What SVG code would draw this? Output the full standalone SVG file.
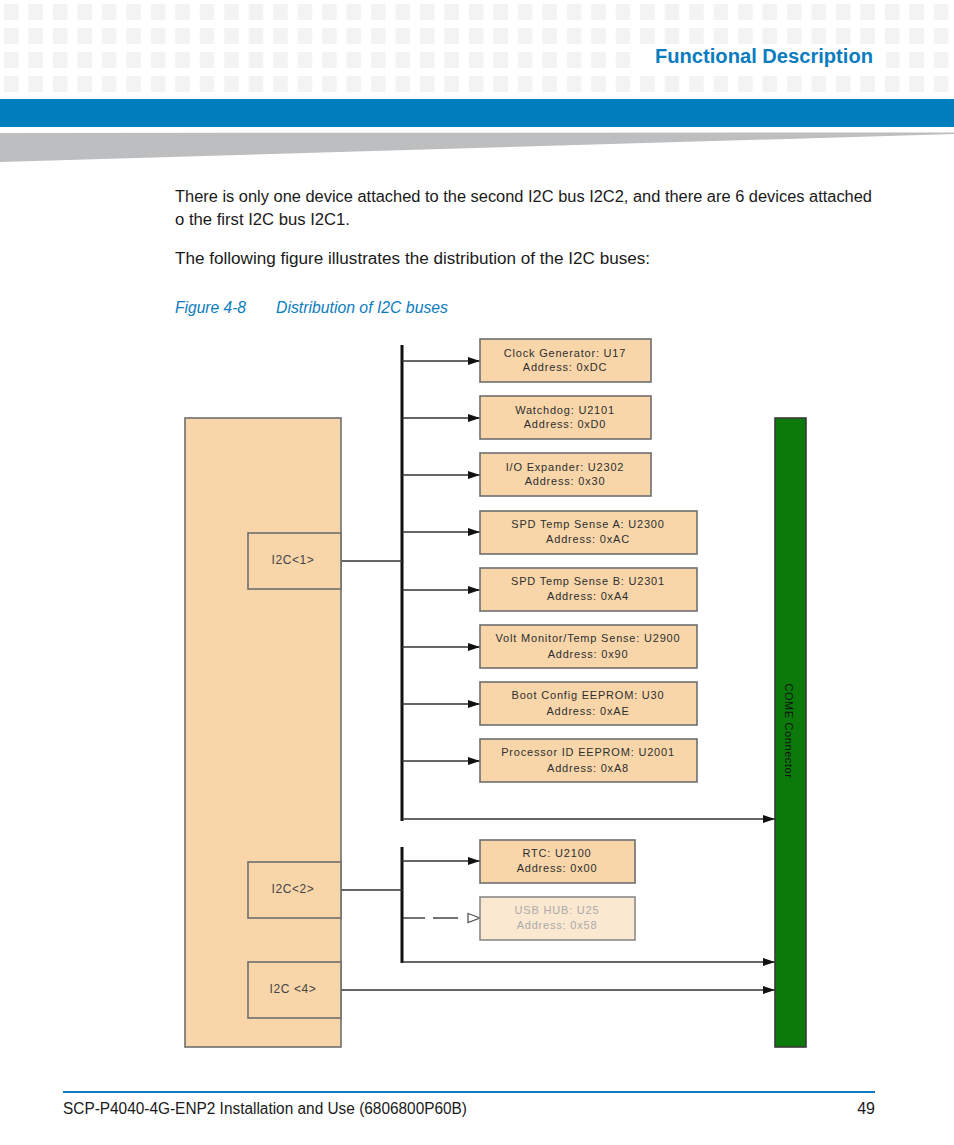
<svg xmlns="http://www.w3.org/2000/svg" width="954" height="1145" viewBox="0 0 954 1145">
<defs>
<pattern id="sq" x="0" y="0" width="24.47" height="24" patternUnits="userSpaceOnUse">
<rect x="4" y="4" width="14.5" height="16" fill="#f3f3f3"/>
</pattern>
<marker id="arr" markerWidth="12" markerHeight="10" refX="12" refY="5" orient="auto" markerUnits="userSpaceOnUse">
<path d="M0,1 L12,5 L0,9 Z" fill="#111"/>
</marker>
<marker id="arrOpen" markerWidth="14" markerHeight="12" refX="13" refY="6" orient="auto" markerUnits="userSpaceOnUse">
<path d="M1,1.5 L13,6 L1,10.5 Z" fill="#fff" stroke="#555" stroke-width="1.3"/>
</marker>
</defs>
<style>
.body{font-family:"Liberation Sans",Arial,sans-serif;font-size:16px;fill:#1a1a1a}
.cap{font-family:"Liberation Sans",Arial,sans-serif;font-size:16px;font-style:italic;fill:#0a7cc0}
.box{fill:#f8d6aa;stroke:#6e6e6e;stroke-width:1.6}
.boxl{fill:#fbe8d0;stroke:#8a8a8a;stroke-width:1.6}
.bt{font-family:"Liberation Sans",Arial,sans-serif;font-size:11px;fill:#2e2e2e;text-anchor:middle;letter-spacing:0.8px}
.btl{font-family:"Liberation Sans",Arial,sans-serif;font-size:11px;fill:#aaa;text-anchor:middle;letter-spacing:0.8px}
.lt{font-family:"Liberation Sans",Arial,sans-serif;font-size:12px;fill:#444;text-anchor:middle;letter-spacing:0.6px}
.ln{stroke:#333;stroke-width:1.5;fill:none}
.bus{stroke:#111;stroke-width:3;fill:none}
</style>
<rect width="954" height="1145" fill="#fff"/>
<g id="header">
<rect x="0" y="0" width="954" height="96" fill="url(#sq)"/>
<rect x="638" y="44" width="248" height="26" fill="#fff"/>
<text x="873" y="63" text-anchor="end" font-family="'Liberation Sans',Arial,sans-serif" font-size="20" font-weight="bold" fill="#0a7cc0" textLength="218" lengthAdjust="spacingAndGlyphs">Functional Description</text>
<rect x="0" y="99" width="954" height="28" fill="#007dbd"/>
<polygon points="0,133 954,132.5 954,134 0,162" fill="#bdbebf"/>
</g>
<g id="text">
<text class="body" x="175" y="202" textLength="697" lengthAdjust="spacingAndGlyphs">There is only one device attached to the second I2C bus I2C2, and there are 6 devices attached</text>
<text class="body" x="175" y="225" textLength="175" lengthAdjust="spacingAndGlyphs">o the first I2C bus I2C1.</text>
<text class="body" x="175" y="264" textLength="475" lengthAdjust="spacingAndGlyphs">The following figure illustrates the distribution of the I2C buses:</text>
<text class="cap" x="175" y="313" textLength="71" lengthAdjust="spacingAndGlyphs">Figure 4-8</text>
<text class="cap" x="276" y="313" textLength="172" lengthAdjust="spacingAndGlyphs">Distribution of I2C buses</text>
</g>
<g id="connectors">
<line class="bus" x1="402" y1="345" x2="402" y2="821"/>
<line class="ln" x1="341" y1="561" x2="402" y2="561"/>
<line class="ln" x1="402" y1="361" x2="480" y2="361" marker-end="url(#arr)"/>
<line class="ln" x1="402" y1="418" x2="480" y2="418" marker-end="url(#arr)"/>
<line class="ln" x1="402" y1="475" x2="480" y2="475" marker-end="url(#arr)"/>
<line class="ln" x1="402" y1="532" x2="480" y2="532" marker-end="url(#arr)"/>
<line class="ln" x1="402" y1="590" x2="480" y2="590" marker-end="url(#arr)"/>
<line class="ln" x1="402" y1="647" x2="480" y2="647" marker-end="url(#arr)"/>
<line class="ln" x1="402" y1="704" x2="480" y2="704" marker-end="url(#arr)"/>
<line class="ln" x1="402" y1="761" x2="480" y2="761" marker-end="url(#arr)"/>
<line class="ln" x1="402" y1="819" x2="775" y2="819" marker-end="url(#arr)"/>
<line class="bus" x1="402" y1="847" x2="402" y2="963"/>
<line class="ln" x1="341" y1="890" x2="402" y2="890" stroke="#666"/>
<line class="ln" x1="402" y1="861" x2="480" y2="861" marker-end="url(#arr)"/>
<line x1="403" y1="918" x2="480" y2="918" stroke="#444" stroke-width="1.5" stroke-dasharray="22,8,25,100" marker-end="url(#arrOpen)"/>
<line class="ln" x1="402" y1="962" x2="775" y2="962" marker-end="url(#arr)"/>
<line class="ln" x1="341" y1="990" x2="775" y2="990" stroke="#555" marker-end="url(#arr)"/>
</g>
<g id="cpu">
<rect class="box" x="185" y="418" width="156" height="629" stroke="#888"/>
</g>
<g id="i2c1">
<rect class="box" x="248" y="533" width="93" height="56" stroke="#444"/>
<text class="lt" x="293" y="564">I2C&lt;1&gt;</text>
</g>
<g id="i2c2">
<rect class="box" x="248" y="862" width="93" height="56" stroke="#444"/>
<text class="lt" x="293" y="893">I2C&lt;2&gt;</text>
</g>
<g id="i2c4">
<rect class="box" x="248" y="962" width="93" height="56" stroke="#444"/>
<text class="lt" x="293" y="993">I2C &lt;4&gt;</text>
</g>
<g id="clock">
<rect class="box" x="480" y="339" width="171" height="43"/>
<text class="bt" x="565" y="357">Clock Generator: U17</text>
<text class="bt" x="565" y="371">Address: 0xDC</text>
</g>
<g id="watchdog">
<rect class="box" x="480" y="396" width="171" height="43"/>
<text class="bt" x="565" y="414">Watchdog: U2101</text>
<text class="bt" x="565" y="428">Address: 0xD0</text>
</g>
<g id="ioexp">
<rect class="box" x="480" y="453" width="171" height="43"/>
<text class="bt" x="565" y="471">I/O Expander: U2302</text>
<text class="bt" x="565" y="485">Address: 0x30</text>
</g>
<g id="spda">
<rect class="box" x="480" y="511" width="217" height="43"/>
<text class="bt" x="588" y="528">SPD Temp Sense A: U2300</text>
<text class="bt" x="588" y="543">Address: 0xAC</text>
</g>
<g id="spdb">
<rect class="box" x="480" y="568" width="217" height="43"/>
<text class="bt" x="588" y="585">SPD Temp Sense B: U2301</text>
<text class="bt" x="588" y="600">Address: 0xA4</text>
</g>
<g id="volt">
<rect class="box" x="480" y="625" width="217" height="43"/>
<text class="bt" x="588" y="642">Volt Monitor/Temp Sense: U2900</text>
<text class="bt" x="588" y="658">Address: 0x90</text>
</g>
<g id="boot">
<rect class="box" x="480" y="682" width="217" height="43"/>
<text class="bt" x="588" y="699">Boot Config EEPROM: U30</text>
<text class="bt" x="588" y="715">Address: 0xAE</text>
</g>
<g id="procid">
<rect class="box" x="480" y="739" width="217" height="43"/>
<text class="bt" x="588" y="756">Processor ID EEPROM: U2001</text>
<text class="bt" x="588" y="772">Address: 0xA8</text>
</g>
<g id="rtc">
<rect class="box" x="480" y="840" width="155" height="43"/>
<text class="bt" x="557" y="857">RTC: U2100</text>
<text class="bt" x="557" y="872">Address: 0x00</text>
</g>
<g id="usbhub">
<rect class="boxl" x="480" y="897" width="155" height="43"/>
<text class="btl" x="557" y="914">USB HUB: U25</text>
<text class="btl" x="557" y="929">Address: 0x58</text>
</g>
<g id="come">
<rect x="775" y="418" width="31" height="629" fill="#0b7a0b" stroke="#3a3a3a" stroke-width="1.6"/>
<text x="0" y="0" transform="translate(785,731) rotate(90)" text-anchor="middle" font-family="'Liberation Sans',Arial,sans-serif" font-size="11" fill="#111" letter-spacing="0.6">COME Connector</text>
</g>
<g id="footer">
<line x1="63" y1="1092" x2="875" y2="1092" stroke="#0a7cc0" stroke-width="2"/>
<text class="body" x="63" y="1114" font-size="15" textLength="404" lengthAdjust="spacingAndGlyphs">SCP-P4040-4G-ENP2 Installation and Use (6806800P60B)</text>
<text class="body" x="875" y="1114" font-size="15" text-anchor="end">49</text>
</g>
</svg>
